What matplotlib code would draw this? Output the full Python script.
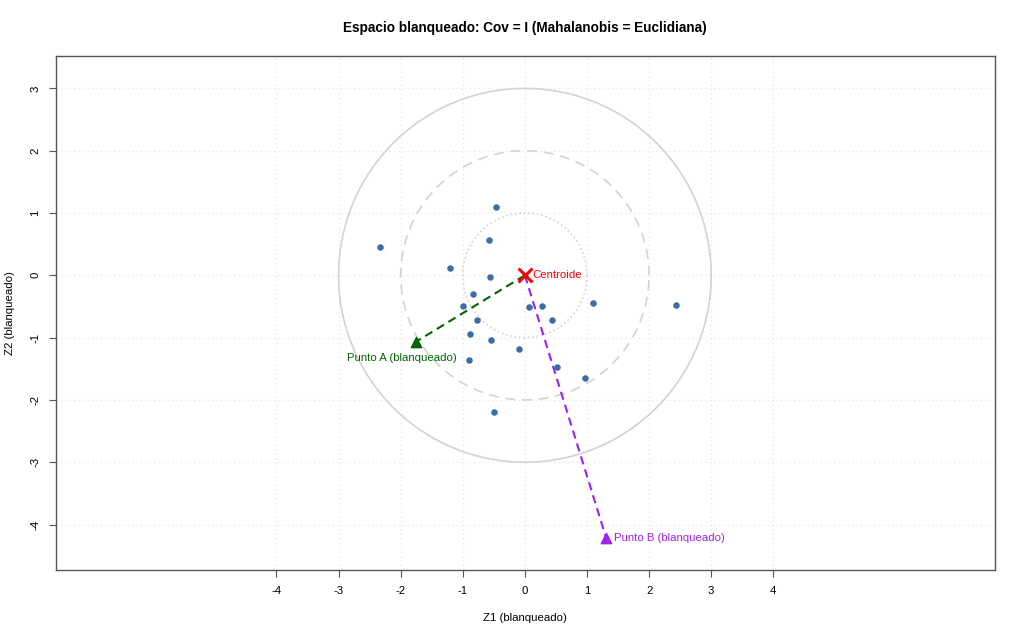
import numpy as np
import matplotlib
matplotlib.use("Agg")
import matplotlib.pyplot as plt

# whitened sample points
z1 = [-0.47, -2.34, -0.57, -1.20, -0.56, -0.83, -0.99, -0.77, -0.88, -0.54,
      -0.10, -0.90, -0.50, 0.07, 0.28, 0.44, 1.09, 2.43, 0.51, 0.97]
z2 = [1.10, 0.45, 0.57, 0.12, -0.03, -0.30, -0.49, -0.72, -0.95, -1.04,
      -1.19, -1.36, -2.20, -0.51, -0.50, -0.71, -0.45, -0.48, -1.47, -1.65]

centroid = (0.0, 0.0)
point_a = (-1.76, -1.07)
point_b = (1.31, -4.22)
radii = [1, 2, 3]
radius_styles = [":", (0, (6, 4)), "-"]

x_ticks = [-4, -3, -2, -1, 0, 1, 2, 3, 4]
y_ticks = [-4, -3, -2, -1, 0, 1, 2, 3]

plt.rcParams['font.family'] = ['Liberation Sans', 'DejaVu Sans']

fig = plt.figure(figsize=(10.24, 6.4), dpi=100)
ax = fig.add_axes([56 / 1024, 1 - 570 / 640, (995 - 56) / 1024, (570 - 56) / 640])
ax.set_xlim(-7.55, 7.57)
ax.set_ylim(-4.73, 3.52)

# grid at tick positions
for xt in x_ticks:
    ax.axvline(xt, color="#e2e2e2", lw=0.8, ls=(0, (1, 3)), zorder=0)
for yt in y_ticks:
    ax.axhline(yt, color="#e2e2e2", lw=0.8, ls=(0, (1, 3)), zorder=0)

theta = np.linspace(0, 2 * np.pi, 400)
for r, ls in zip(radii, radius_styles):
    ax.plot(r * np.cos(theta), r * np.sin(theta), color="#d3d3d3", lw=1.2, ls=ls, zorder=1)

ax.plot([centroid[0], point_a[0]], [centroid[1], point_a[1]], color="#006400",
        lw=1.5, ls=(0, (4, 2.5)), zorder=2)
ax.plot([centroid[0], point_b[0]], [centroid[1], point_b[1]], color="#A020F0",
        lw=1.5, ls=(0, (4, 2.5)), zorder=2)

ax.scatter(z1, z2, s=22, color="#3A6EA5", zorder=3, linewidths=0)

ax.scatter([centroid[0]], [centroid[1]], marker="x", s=100, color="red", linewidths=2.2, zorder=4)
ax.text(centroid[0] + 0.12, centroid[1], "Centroide", color="red", fontsize=8.2,
        va="center", ha="left")

ax.scatter([point_a[0]], [point_a[1]], marker="^", s=55, color="#006400", zorder=4)
ax.text(point_a[0] - 0.22, point_a[1] - 0.25, "Punto A (blanqueado)", color="#006400",
        fontsize=8.2, va="center", ha="center")

ax.scatter([point_b[0]], [point_b[1]], marker="^", s=55, color="#A020F0", zorder=4)
ax.text(point_b[0] + 0.12, point_b[1], "Punto B (blanqueado)", color="#A020F0",
        fontsize=8.2, va="center", ha="left")

ax.set_xticks(x_ticks)
ax.set_yticks(y_ticks)
ax.set_xticklabels([str(v) for v in x_ticks])
ax.set_yticklabels([str(v) for v in y_ticks], rotation=90, va="center")
ax.tick_params(axis="both", labelsize=8.2, length=5, color="#555555", pad=6.5)
for sp in ax.spines.values():
    sp.set_color("#555555")
    sp.set_linewidth(1.0)

fig.text(525 / 1024, 1 - 618 / 640, "Z1 (blanqueado)", fontsize=8.2, ha="center", va="center")
fig.text(10 / 1024, 1 - 313 / 640, "Z2 (blanqueado)", fontsize=8.2, ha="center", va="center",
         rotation=90)
fig.text(525 / 1024, 1 - 28 / 640, "Espacio blanqueado: Cov = I (Mahalanobis = Euclidiana)",
         fontsize=9.8, fontweight="bold", ha="center", va="center")

fig.savefig("out.png", dpi=100)
